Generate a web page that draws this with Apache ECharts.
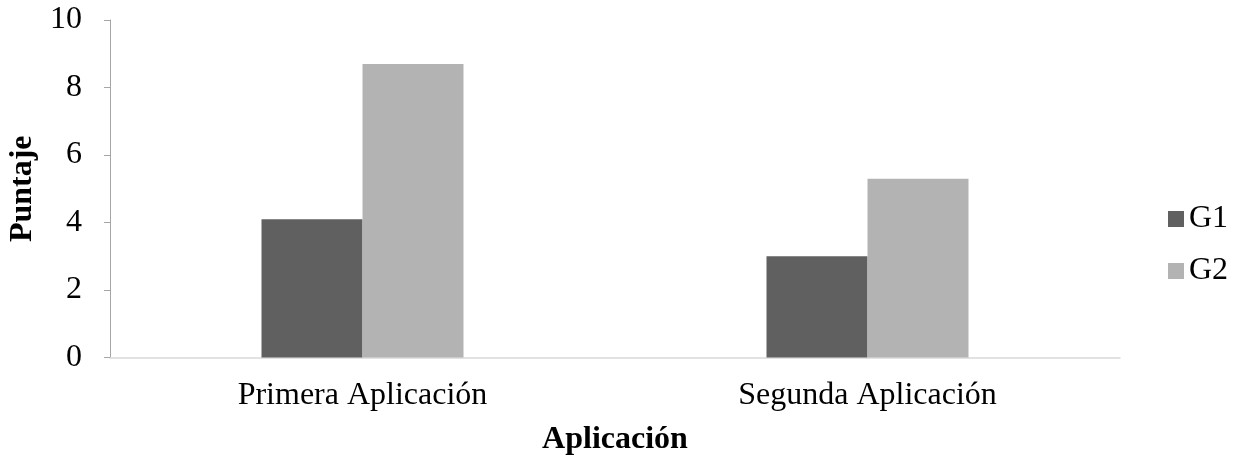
<!DOCTYPE html>
<html>
<head>
<meta charset="utf-8">
<script src="https://cdn.jsdelivr.net/npm/echarts@6/dist/echarts.min.js"></script>
<style>
html,body{margin:0;padding:0;background:#fff;}
#chart{width:1240px;height:461px;}
</style>
</head>
<body>
<div id="chart"></div>
<script>
const categories = ['Primera Aplicación', 'Segunda Aplicación'];
const seriesNames = ['G1', 'G2'];
const g1Values = [4.1, 3.0];
const g2Values = [8.7, 5.3];
const yTicks = [0, 2, 4, 6, 8, 10];

const FONT = '"Liberation Serif", "Times New Roman", serif';
const chart = echarts.init(document.getElementById('chart'));
chart.setOption({
  animation: false,
  backgroundColor: '#ffffff',
  grid: { left: 110, right: 120, top: 20, bottom: 103.5, containLabel: false, outerBoundsMode: 'none' },
  legend: {
    orient: 'vertical',
    left: 1163,
    top: 198,
    itemWidth: 16,
    itemHeight: 16,
    itemGap: 20,
    icon: 'rect',
    textStyle: { fontFamily: FONT, fontSize: 32, color: '#000' },
    data: seriesNames
  },
  xAxis: {
    type: 'category',
    data: categories,
    name: 'Aplicación',
    nameLocation: 'middle',
    nameGap: 66,
    nameTextStyle: { fontFamily: FONT, fontSize: 32, fontWeight: 'bold', color: '#000' },
    axisLine: { lineStyle: { color: '#d9d9d9', width: 1.5 } },
    axisTick: { show: false },
    axisLabel: { fontFamily: FONT, fontSize: 32, color: '#000', margin: 22 }
  },
  yAxis: {
    type: 'value',
    min: 0,
    max: 10,
    interval: 2,
    name: 'Puntaje',
    nameLocation: 'middle',
    nameGap: 71,
    nameRotate: 90,
    nameTextStyle: { fontFamily: FONT, fontSize: 32, fontWeight: 'bold', color: '#000' },
    axisLine: { show: true, lineStyle: { color: '#a6a6a6', width: 1 } },
    axisTick: { show: true, length: 6, lineStyle: { color: '#a6a6a6' } },
    splitLine: { show: false },
    axisLabel: {
      fontFamily: FONT, fontSize: 32, color: '#000', margin: 28,
      formatter: function (v) { return yTicks.indexOf(v) >= 0 ? String(v) : ''; }
    }
  },
  series: [
    { name: 'G1', type: 'bar', data: g1Values, barWidth: 101, barGap: '0%',
      itemStyle: { color: '#606060' } },
    { name: 'G2', type: 'bar', data: g2Values, barWidth: 101, barGap: '0%',
      itemStyle: { color: '#b3b3b3' } }
  ]
});
</script>
</body>
</html>
